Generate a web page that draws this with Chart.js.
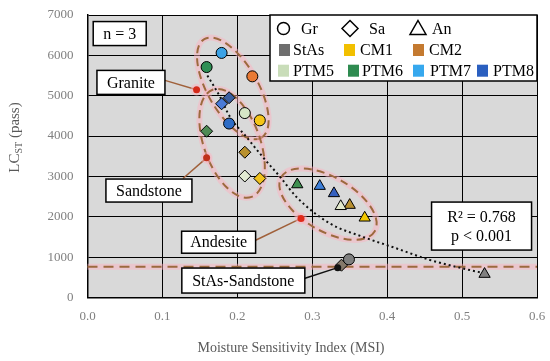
<!DOCTYPE html>
<html>
<head>
<meta charset="utf-8">
<script src="https://cdn.jsdelivr.net/npm/chart.js@4"></script>
<style>
html,body{margin:0;padding:0;background:#fff;}
#wrap{width:550px;height:361px;position:relative;}
</style>
</head>
<body>
<div id="wrap"><canvas id="chart"></canvas></div>
<script>
// groups, same order in every series below
const groups = ["StAs","CM1","CM2","PTM5","PTM6","PTM7","PTM8"];

// Gr (circles)
const grMSI = [0.349, 0.230, 0.220, 0.210, 0.159, 0.179, 0.189];
const grLC  = [945, 4390, 5480, 4570, 5710, 6060, 4310];
// Sa (diamonds)
const saMSI = [0.339, 0.230, 0.210, 0.210, 0.159, 0.179, 0.189];
const saLC  = [800, 2950, 3600, 3010, 4120, 4800, 4950];
// An (triangles)
const anMSI = [0.530, 0.370, 0.350, 0.338, 0.280, 0.310, 0.329];
const anLC  = [580, 1975, 2290, 2260, 2800, 2760, 2580];

// dotted fit line
const trendMSI = [0.160, 0.177, 0.190, 0.212, 0.234, 0.257, 0.279, 0.323, 0.368, 0.412, 0.457, 0.501, 0.530];
const trendLC  = [5500, 4970, 4480, 3980, 3480, 2990, 2490, 1840, 1500, 1220, 930, 720, 600];

const stAsLimit = 760;
const xTicks = [0, 0.1, 0.2, 0.3, 0.4, 0.5, 0.6];
const yTicks = [0, 1000, 2000, 3000, 4000, 5000, 6000, 7000];

/* ---------- styles ---------- */
const circleFill   = ["#7f7f7f","#f5c518","#e97a35","#d6e6c6","#2f8f55","#3aa2e6","#2e6cc6"];
const diamondFill  = ["#85786a","#f0c21c","#b8902e","#e2ebd2","#4e8b55","#4a7bd8","#3b5fa0"];
const triangleFill = ["#808080","#f2c800","#b89030","#e2e8cc","#3e8f50","#3e7fd8","#3560c0"];
const legendFill   = ["#6e6e6e","#f2c000","#c47a30","#c9ddb9","#2e8b50","#36a8ee","#2a5fc0"];

const SERIF = "'Liberation Serif', 'Times New Roman', serif";
const BROWN = "#9c6a3e";
const GLOW = "rgba(255,175,190,0.45)";

// annotations (centres in data units, sizes in px)
const ellipses = [
  {x:0.194, y:5180, a:57, b:25, rot:60},
  {x:0.193, y:3820, a:57, b:28, rot:70},
  {x:0.321, y:2313, a:54, b:27, rot:30}
];
const callouts = [
  {text:"Granite",       x:0.058, y:5330, w:68,  h:24, ax:0.1456, ay:5150, dx:34, dy:-2,  dot:"#d42a1a", line:"#a0603a"},
  {text:"Sandstone",     x:0.082, y:2650, w:86,  h:23, ax:0.159,  ay:3460, dx:34, dy:-12, dot:"#c0301a", line:"#a0603a"},
  {text:"Andesite",      x:0.175, y:1370, w:74,  h:22, ax:0.285,  ay:1960, dx:37, dy:-2,  dot:"#e02a1a", line:"#a0603a"},
  {text:"StAs-Sandstone",x:0.208, y:420,  w:123, h:25, ax:0.334,  ay:740,  dx:61, dy:-2,  dot:"#111",    line:"#111"}
];

function pts(xs, ys){ return xs.map((x,i) => ({x:x, y:ys[i]})); }

function box(ctx, cx, cy, w, h){
  ctx.fillStyle = "#fff";
  ctx.fillRect(cx - w/2, cy - h/2, w, h);
  ctx.strokeStyle = "#000";
  ctx.lineWidth = 1.5;
  ctx.strokeRect(cx - w/2, cy - h/2, w, h);
}

const decor = {
  id:'decor',
  beforeDraw(chart){
    const {ctx, chartArea:a} = chart;
    ctx.save();
    ctx.fillStyle = "#d9d9d9";
    ctx.fillRect(a.left, a.top, a.right - a.left, a.bottom - a.top);
    ctx.restore();
  },
  beforeDatasetsDraw(chart){
    const {ctx, chartArea:a, scales:{x, y}} = chart;
    ctx.save();
    // StAs limit line
    const ly = y.getPixelForValue(stAsLimit);
    ctx.strokeStyle = GLOW; ctx.lineWidth = 6;
    ctx.beginPath(); ctx.moveTo(a.left, ly); ctx.lineTo(a.right, ly); ctx.stroke();
    ctx.strokeStyle = BROWN; ctx.lineWidth = 2; ctx.setLineDash([10,6]);
    ctx.beginPath(); ctx.moveTo(a.left, ly); ctx.lineTo(a.right, ly); ctx.stroke();
    // rock type ellipses
    ellipses.forEach(e => {
      const cx = x.getPixelForValue(e.x), cy = y.getPixelForValue(e.y);
      const r = e.rot * Math.PI / 180;
      ctx.setLineDash([]);
      ctx.strokeStyle = GLOW; ctx.lineWidth = 6;
      ctx.beginPath(); ctx.ellipse(cx, cy, e.a, e.b, r, 0, Math.PI*2); ctx.stroke();
      ctx.strokeStyle = BROWN; ctx.lineWidth = 2; ctx.setLineDash([8,5]);
      ctx.beginPath(); ctx.ellipse(cx, cy, e.a, e.b, r, 0, Math.PI*2); ctx.stroke();
    });
    ctx.restore();
  },
  afterDatasetsDraw(chart){
    const {ctx, chartArea:a, scales:{x, y}} = chart;
    ctx.save();
    ctx.textAlign = "center";
    ctx.textBaseline = "middle";

    // callouts
    callouts.forEach(c => {
      const cx = x.getPixelForValue(c.x), cy = y.getPixelForValue(c.y);
      const px = x.getPixelForValue(c.ax), py = y.getPixelForValue(c.ay);
      ctx.strokeStyle = c.line; ctx.lineWidth = 1.5;
      ctx.beginPath(); ctx.moveTo(cx + c.dx, cy + c.dy); ctx.lineTo(px, py); ctx.stroke();
      ctx.fillStyle = c.dot === "#111" ? "rgba(0,0,0,0)" : GLOW;
      ctx.beginPath(); ctx.arc(px, py, 6, 0, Math.PI*2); ctx.fill();
      ctx.fillStyle = c.dot;
      ctx.beginPath(); ctx.arc(px, py, 3.5, 0, Math.PI*2); ctx.fill();
      box(ctx, cx, cy, c.w, c.h);
      ctx.fillStyle = "#000";
      ctx.font = "16px " + SERIF;
      ctx.fillText(c.text, cx, cy + 1);
    });

    // n = 3
    const nx = x.getPixelForValue(0.043), ny = y.getPixelForValue(6540);
    box(ctx, nx, ny, 53, 24);
    ctx.fillStyle = "#000";
    ctx.fillText("n = 3", nx, ny + 1);

    // fit stats
    const rx = x.getPixelForValue(0.526), ry = y.getPixelForValue(1770);
    box(ctx, rx, ry, 100, 48);
    ctx.fillStyle = "#000";
    ctx.fillText("R\u00b2 = 0.768", rx, ry - 8);
    ctx.fillText("p < 0.001", rx, ry + 11);

    // legend
    const L = a.right - 267, T = a.top;
    box(ctx, L + 133.5, T + 33, 267, 66);
    ctx.textAlign = "left";
    ctx.fillStyle = "#000";
    ctx.strokeStyle = "#000"; ctx.lineWidth = 1.5;
    const r1 = T + 13.5;
    ctx.beginPath(); ctx.arc(L + 13.5, r1, 6, 0, Math.PI*2); ctx.stroke();
    ctx.fillText("Gr", L + 31, r1 + 1);
    ctx.beginPath();
    ctx.moveTo(L + 80, r1 - 8); ctx.lineTo(L + 88, r1); ctx.lineTo(L + 80, r1 + 8); ctx.lineTo(L + 72, r1); ctx.closePath(); ctx.stroke();
    ctx.fillText("Sa", L + 99, r1 + 1);
    ctx.beginPath();
    ctx.moveTo(L + 148, r1 - 8); ctx.lineTo(L + 156, r1 + 6); ctx.lineTo(L + 140, r1 + 6); ctx.closePath(); ctx.stroke();
    ctx.fillText("An", L + 162, r1 + 1);

    const rows = [[0,1,2],[3,4,5,6]];
    const sqX = [[9, 74, 143], [8, 78, 143, 207]];
    const txX = [[23, 90, 159], [23, 92, 160, 223]];
    rows.forEach((row, ri) => {
      const ry2 = T + (ri === 0 ? 35 : 55.7);
      row.forEach((g, k) => {
        ctx.fillStyle = legendFill[g];
        ctx.fillRect(L + sqX[ri][k], ry2 - 6, 11, 12);
        ctx.fillStyle = "#000";
        ctx.fillText(groups[g], L + txX[ri][k], ry2 + 1);
      });
    });

    // axis titles
    ctx.fillStyle = "#595959";
    ctx.textAlign = "center";
    ctx.font = "14px " + SERIF;
    ctx.fillText("Moisture Sensitivity Index (MSI)", 291, 348);

    ctx.translate(15, 137.5);
    ctx.rotate(-Math.PI/2);
    ctx.textAlign = "left";
    ctx.font = "15px " + SERIF;
    const w1 = ctx.measureText("LC").width;
    ctx.font = "10px " + SERIF;
    const w2 = ctx.measureText("ST").width;
    ctx.font = "15px " + SERIF;
    const w3 = ctx.measureText(" (pass)").width;
    let sx = -(w1 + w2 + w3) / 2;
    ctx.fillText("LC", sx, 0);
    ctx.font = "10px " + SERIF;
    ctx.fillText("ST", sx + w1, 4);
    ctx.font = "15px " + SERIF;
    ctx.fillText(" (pass)", sx + w1 + w2, 0);
    ctx.restore();
  }
};

function shapeSet(label, xs, ys, fills, style, r){
  return {
    label: label,
    data: pts(xs, ys),
    pointStyle: style,
    pointRadius: r,
    pointHoverRadius: r,
    backgroundColor: fills,
    borderColor: "#000",
    borderWidth: 1
  };
}

new Chart(document.getElementById("chart"), {
  type: "scatter",
  data: {
    datasets: [
      shapeSet("Gr", grMSI, grLC, circleFill, "circle", 5.5),
      shapeSet("Sa", saMSI, saLC, diamondFill, "rectRot", 6),
      shapeSet("An", anMSI, anLC, triangleFill, "triangle", 6.5),
      {
        label: "fit",
        data: pts(trendMSI, trendLC),
        showLine: true,
        borderColor: "#111",
        borderWidth: 2,
        borderDash: [2, 3],
        pointRadius: 0,
        cubicInterpolationMode: "monotone"
      }
    ]
  },
  options: {
    responsive: true,
    maintainAspectRatio: false,
    animation: false,
    layout: { padding: { top: 15, right: 13, left: 0, bottom: 0 } },
    plugins: { legend: { display: false }, tooltip: { enabled: false } },
    scales: {
      x: {
        type: "linear",
        min: 0, max: 0.6,
        afterBuildTicks: s => { s.ticks = xTicks.map(v => ({value: v})); },
        afterFit: s => { s.height = 63.5; s.paddingLeft = 0; s.paddingRight = 0; },
        ticks: {
          color: "#7f7f7f",
          padding: 11,
          font: { family: SERIF, size: 13 },
          callback: v => v.toFixed(1)
        },
        grid: { color: "#000", lineWidth: 1, drawTicks: false },
        border: { color: "#000", width: 1.5 }
      },
      y: {
        type: "linear",
        min: 0, max: 7000,
        afterBuildTicks: s => { s.ticks = yTicks.map(v => ({value: v})); },
        afterFit: s => { s.width = 87.5; s.paddingTop = 0; s.paddingBottom = 0; },
        ticks: {
          color: "#7f7f7f",
          padding: 14,
          font: { family: SERIF, size: 13 },
          callback: v => String(v)
        },
        grid: { color: "#000", lineWidth: 1, drawTicks: false },
        border: { color: "#000", width: 1.5 }
      }
    }
  },
  plugins: [decor]
});
</script>
</body>
</html>
